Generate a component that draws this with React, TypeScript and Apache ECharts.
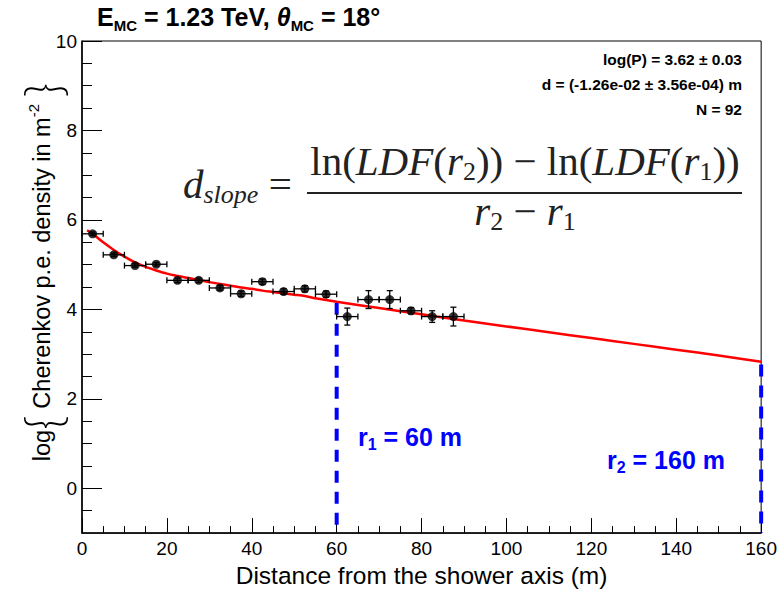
import React, { useEffect, useRef } from "react";
import * as echarts from "echarts";

// ---- data ----
const distances = [2.5, 7.5, 12.5, 17.5, 22.5, 27.5, 32.5, 37.5, 42.5, 47.5, 52.5, 57.5, 62.5, 67.5, 72.5, 77.5, 82.5, 87.5];
const densities = [5.69, 5.22, 4.98, 5.01, 4.65, 4.65, 4.48, 4.35, 4.62, 4.4, 4.46, 4.34, 3.84, 4.22, 4.22, 3.97, 3.84, 3.84];
const densityErrors = [0.04, 0.04, 0.04, 0.04, 0.05, 0.05, 0.05, 0.06, 0.06, 0.06, 0.07, 0.07, 0.19, 0.2, 0.2, 0.07, 0.13, 0.21];
const distanceHalfWidths = [2.5, 2.5, 2.5, 2.5, 2.5, 2.5, 2.5, 2.5, 2.5, 2.5, 2.5, 2.5, 2.5, 2.5, 2.5, 2.5, 2.5, 2.5];

const fitDistances = [1.2, 2.5, 5, 7.5, 10, 12.5, 15, 17.5, 20, 22.5, 25, 27.5, 30, 32.5, 35, 37.5, 40, 42.5, 45, 47.5, 50, 52.5, 55, 60, 70, 80, 90, 100, 110, 120, 130, 140, 150, 160];
const fitDensities = [5.77, 5.69, 5.5, 5.33, 5.18, 5.05, 4.95, 4.87, 4.8, 4.75, 4.7, 4.66, 4.61, 4.57, 4.53, 4.49, 4.46, 4.42, 4.39, 4.36, 4.33, 4.3, 4.25, 4.17, 4.03, 3.89, 3.75, 3.62, 3.49, 3.36, 3.23, 3.1, 2.97, 2.83];

const r1 = 60;
const r1Top = 4.15;
const r2 = 160;
const r2Top = 2.77;

const xMin = 0;
const xMax = 160;
const xInterval = 20;
const yMin = -1;
const yMax = 10;
const yMajorTicks = [0, 2, 4, 6, 8, 10];
const yMinorTicks = [-0.5, 0.5, 1, 1.5, 2.5, 3, 3.5, 4.5, 5, 5.5, 6.5, 7, 7.5, 8.5, 9, 9.5];

const FONT = "Liberation Sans, Arial, Helvetica, sans-serif";
const SERIF = "Liberation Serif, DejaVu Serif, serif";

export default function App() {
  const ref = useRef<HTMLDivElement>(null);

  useEffect(() => {
    document.body.style.margin = "0";
    const chart = echarts.init(ref.current!, null, { renderer: "svg" });

    const errData = distances.map((d, i) => [d, densities[i], distanceHalfWidths[i], densityErrors[i]]);
    const pointData = distances.map((d, i) => [d, densities[i]]);
    const fitData = fitDistances.map((d, i) => [d, fitDensities[i]]);

    const tickLabel = { color: "#000", fontSize: 19, fontFamily: FONT };
    const fRich = {
      n: { fontFamily: SERIF, fontSize: 41, fill: "#222", lineHeight: 46 },
      i: { fontFamily: SERIF, fontStyle: "italic", fontSize: 41, fill: "#222", lineHeight: 46 },
      s: { fontFamily: SERIF, fontSize: 26, fill: "#222", lineHeight: 26, verticalAlign: "bottom" },
      si: { fontFamily: SERIF, fontStyle: "italic", fontSize: 26, fill: "#222", lineHeight: 26, verticalAlign: "bottom" },
    };
    const dashed = { color: "#0000ff", width: 4, type: [12, 9] };

    const option: any = {
      animation: false,
      backgroundColor: "#fff",
      grid: {
        left: 82,
        right: 16,
        top: 41,
        bottom: 52,
        show: true,
        borderColor: "#000",
        borderWidth: 1,
        backgroundColor: "transparent",
      },
      xAxis: {
        type: "value",
        min: xMin,
        max: xMax,
        interval: xInterval,
        axisLine: { show: true, onZero: false, lineStyle: { color: "#000", width: 1.5 } },
        axisTick: { show: true, inside: true, length: 15, lineStyle: { color: "#000", width: 1 } },
        minorTick: { show: true, splitNumber: 4, length: 7, lineStyle: { color: "#000", width: 1 } },
        splitLine: { show: false },
        minorSplitLine: { show: false },
        axisLabel: { ...tickLabel, margin: 6, showMinLabel: true, showMaxLabel: true },
        name: "Distance from the shower axis (m)",
        nameLocation: "middle",
        nameGap: 26,
        nameTextStyle: { color: "#000", fontSize: 24.5, fontFamily: FONT },
      },
      yAxis: [
        {
          type: "value",
          min: yMin,
          max: yMax,
          position: "left",
          axisLine: { show: true, onZero: false, lineStyle: { color: "#000", width: 1.5 } },
          axisTick: { show: true, inside: true, length: 20, customValues: yMajorTicks, lineStyle: { color: "#000", width: 1 } },
          axisLabel: { ...tickLabel, margin: 5, customValues: yMajorTicks },
          splitLine: { show: false },
        },
        {
          type: "value",
          min: yMin,
          max: yMax,
          position: "left",
          offset: 0,
          axisLine: { show: false, onZero: false },
          axisTick: { show: true, inside: true, length: 10, customValues: yMinorTicks, lineStyle: { color: "#000", width: 1 } },
          axisLabel: { show: false },
          splitLine: { show: false },
        },
      ],
      series: [
        {
          type: "line",
          name: "r1",
          data: [[r1, r1Top], [r1, yMin]],
          showSymbol: false,
          symbol: "none",
          clip: false,
          lineStyle: dashed,
          z: 2,
        },
        {
          type: "line",
          name: "r2",
          data: [[r2, r2Top], [r2, yMin]],
          showSymbol: false,
          symbol: "none",
          clip: false,
          lineStyle: dashed,
          z: 2,
        },
        {
          type: "custom",
          name: "errors",
          data: errData,
          encode: { x: 0, y: 1 },
          z: 4,
          renderItem: (params: any, api: any) => {
            const x = api.value(0);
            const y = api.value(1);
            const ex = api.value(2);
            const ey = api.value(3);
            const l = api.coord([x - ex, y]);
            const r = api.coord([x + ex, y]);
            const t = api.coord([x, y + ey]);
            const b = api.coord([x, y - ey]);
            const c = 3;
            const style = { stroke: "#000", lineWidth: 1.3, fill: null };
            return {
              type: "group",
              children: [
                { type: "line", shape: { x1: l[0], y1: l[1], x2: r[0], y2: r[1] }, style },
                { type: "line", shape: { x1: l[0], y1: l[1] - c, x2: l[0], y2: l[1] + c }, style },
                { type: "line", shape: { x1: r[0], y1: r[1] - c, x2: r[0], y2: r[1] + c }, style },
                { type: "line", shape: { x1: t[0], y1: t[1], x2: b[0], y2: b[1] }, style },
                { type: "line", shape: { x1: t[0] - c, y1: t[1], x2: t[0] + c, y2: t[1] }, style },
                { type: "line", shape: { x1: b[0] - c, y1: b[1], x2: b[0] + c, y2: b[1] }, style },
              ],
            };
          },
        },
        {
          type: "line",
          name: "fit",
          data: fitData,
          smooth: 0.3,
          showSymbol: false,
          symbol: "none",
          lineStyle: { color: "#ff0000", width: 2.5 },
          z: 3,
        },
        {
          type: "scatter",
          name: "data",
          data: pointData,
          symbol: "circle",
          symbolSize: 9,
          itemStyle: { color: "#000" },
          z: 5,
        },
      ],
      graphic: [
        {
          type: "text",
          left: 97,
          top: 4,
          style: {
            text: "{b|E}{s|MC}{b| = 1.23 TeV, }{bi|θ}{s|MC}{b| = 18°}",
            rich: {
              b: { fontFamily: FONT, fontWeight: "bold", fontSize: 25, fill: "#000", lineHeight: 29, verticalAlign: "top" },
              bi: { fontFamily: FONT, fontWeight: "bold", fontStyle: "italic", fontSize: 25, fill: "#000", lineHeight: 29, verticalAlign: "top" },
              s: { fontFamily: FONT, fontWeight: "bold", fontSize: 15, fill: "#000", lineHeight: 17, verticalAlign: "bottom" },
            },
          },
        },
        {
          type: "text",
          x: 742,
          y: 59,
          style: { text: "log(P) = 3.62 ± 0.03", fontFamily: FONT, fontWeight: "bold", fontSize: 15.5, fill: "#000", align: "right", verticalAlign: "middle" },
        },
        {
          type: "text",
          x: 742,
          y: 84,
          style: { text: "d = (-1.26e-02 ± 3.56e-04) m", fontFamily: FONT, fontWeight: "bold", fontSize: 15.5, fill: "#000", align: "right", verticalAlign: "middle" },
        },
        {
          type: "text",
          x: 742,
          y: 109,
          style: { text: "N = 92", fontFamily: FONT, fontWeight: "bold", fontSize: 15.5, fill: "#000", align: "right", verticalAlign: "middle" },
        },
        // formula
        {
          type: "text",
          x: 183,
          y: 184,
          style: { text: "{i|d}{si|slope}{n| =}", align: "left", verticalAlign: "middle", rich: fRich },
        },
        {
          type: "text",
          x: 525,
          y: 161,
          style: {
            text: "{n|ln(}{i|LDF}{n|(}{i|r}{s|2}{n|)) − ln(}{i|LDF}{n|(}{i|r}{s|1}{n|))}",
            align: "center",
            verticalAlign: "middle",
            rich: fRich,
          },
        },
        {
          type: "line",
          shape: { x1: 307, y1: 193, x2: 742, y2: 193 },
          style: { stroke: "#222", lineWidth: 2 },
        },
        {
          type: "text",
          x: 525,
          y: 211,
          style: { text: "{i|r}{s|2}{n| − }{i|r}{s|1}", align: "center", verticalAlign: "middle", rich: fRich },
        },
        // r labels
        {
          type: "text",
          x: 358,
          y: 437,
          style: {
            text: "{b|r}{s|1}{b| = 60 m}",
            align: "left",
            verticalAlign: "middle",
            rich: {
              b: { fontFamily: FONT, fontWeight: "bold", fontSize: 25, fill: "#0000ff", lineHeight: 30 },
              s: { fontFamily: FONT, fontWeight: "bold", fontSize: 16, fill: "#0000ff", lineHeight: 18, verticalAlign: "bottom" },
            },
          },
        },
        {
          type: "text",
          x: 607,
          y: 460,
          style: {
            text: "{b|r}{s|2}{b| = 160 m}",
            align: "left",
            verticalAlign: "middle",
            rich: {
              b: { fontFamily: FONT, fontWeight: "bold", fontSize: 25, fill: "#0000ff", lineHeight: 30 },
              s: { fontFamily: FONT, fontWeight: "bold", fontSize: 16, fill: "#0000ff", lineHeight: 18, verticalAlign: "bottom" },
            },
          },
        },
        // y axis title
        {
          type: "text",
          x: 42,
          y: 272,
          rotation: Math.PI / 2,
          style: {
            text: "{t|log}{{t| Cherenkov p.e. density in m}{p|-2}{t| }}",
            align: "center",
            verticalAlign: "middle",
            fontFamily: "Lato, Noto Sans, sans-serif",
            fontWeight: 300,
            fontSize: 50,
            fill: "#000",
            rich: {
              t: { fontFamily: FONT, fontSize: 23.5, fill: "#000", lineHeight: 50 },
              p: { fontFamily: FONT, fontSize: 15, fill: "#000", lineHeight: 38, verticalAlign: "middle", padding: [0, 0, 18, 0] },
            },
          },
        },
      ],
    };

    chart.setOption(option);
    return () => chart.dispose();
  }, []);

  return <div ref={ref} style={{ position: "fixed", left: 0, top: 0, width: 780, height: 593, background: "#fff" }} />;
}
